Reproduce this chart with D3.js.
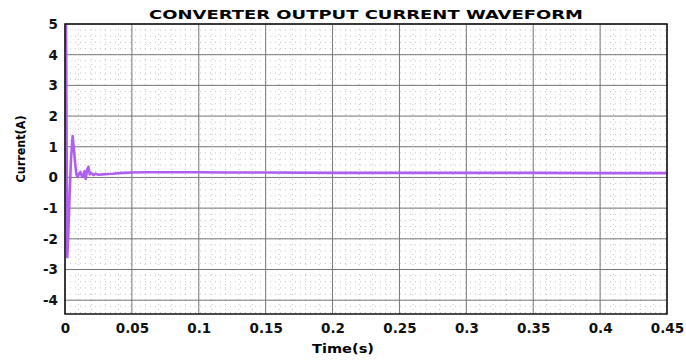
<!DOCTYPE html>
<html>
<head>
<meta charset="utf-8">
<script src="https://cdn.jsdelivr.net/npm/d3@7"></script>
<style>
  body { margin: 0; background: #fff; }
  text { font-family: "DejaVu Sans", Arial, sans-serif; font-weight: bold; }
</style>
</head>
<body>
<div id="chart"></div>
<script>
// time (s) and converter current (A)
var timeValues = [0, 0.0002, 0.0005, 0.0009, 0.0013, 0.0017, 0.0025, 0.0035, 0.0045, 0.0057,
                  0.0065, 0.0075, 0.0085, 0.0095, 0.0105, 0.0115, 0.0125, 0.0135, 0.0145, 0.0155,
                  0.0165, 0.0175, 0.0185, 0.0195, 0.021, 0.023, 0.025, 0.028, 0.032, 0.036,
                  0.04, 0.045, 0.05, 0.06, 0.08, 0.1, 0.12, 0.15, 0.2, 0.25,
                  0.3, 0.35, 0.4, 0.45];
var currentValues = [0, 3, 6.5, 4, 0.5, -2.6, -1.8, -0.5, 0.6, 1.35,
                     1.0, 0.5, 0.1, 0.02, 0.12, 0.18, 0.05, 0.02, 0.2, -0.05,
                     0.25, 0.35, 0.1, 0.15, 0.08, 0.12, 0.09, 0.1, 0.11, 0.12,
                     0.14, 0.15, 0.16, 0.17, 0.17, 0.17, 0.16, 0.16, 0.15, 0.15,
                     0.15, 0.15, 0.14, 0.14];
var xTicks = [0, 0.05, 0.1, 0.15, 0.2, 0.25, 0.3, 0.35, 0.4, 0.45];
var yTicks = [-4, -3, -2, -1, 0, 1, 2, 3, 4, 5];

function drawChart(target) {
    var width = 686, height = 360;
    var plotLeft = 65, plotRight = 667, plotTop = 24, plotBottom = 314;
    var fontFamily = '"DejaVu Sans", Arial, sans-serif';

    var x = d3.scaleLinear().domain([0, 0.45]).range([plotLeft, plotRight]);
    var y = d3.scaleLinear().domain([-4.45, 5]).range([plotBottom, plotTop]);

    var svg = d3.select(target).append('svg')
        .attr('width', width).attr('height', height);

    // minor grid (dotted)
    var xMinor = d3.range(0, 0.4501, 0.01);
    var yMinor = d3.range(-4.4, 5.001, 0.2);
    svg.append('g').selectAll('line').data(xMinor).enter().append('line')
        .attr('x1', function(d) { return x(d); }).attr('x2', function(d) { return x(d); })
        .attr('y1', plotTop).attr('y2', plotBottom)
        .attr('stroke', '#c4c4c4').attr('stroke-width', 1).attr('stroke-dasharray', '1,4');
    svg.append('g').selectAll('line').data(yMinor).enter().append('line')
        .attr('y1', function(d) { return y(d); }).attr('y2', function(d) { return y(d); })
        .attr('x1', plotLeft).attr('x2', plotRight)
        .attr('stroke', '#c4c4c4').attr('stroke-width', 1).attr('stroke-dasharray', '1,4');

    // major grid
    svg.append('g').selectAll('line').data(xTicks).enter().append('line')
        .attr('x1', function(d) { return x(d); }).attr('x2', function(d) { return x(d); })
        .attr('y1', plotTop).attr('y2', plotBottom)
        .attr('stroke', '#777').attr('stroke-width', 1);
    svg.append('g').selectAll('line').data(yTicks).enter().append('line')
        .attr('y1', function(d) { return y(d); }).attr('y2', function(d) { return y(d); })
        .attr('x1', plotLeft).attr('x2', plotRight)
        .attr('stroke', '#777').attr('stroke-width', 1);

    // waveform
    svg.append('clipPath').attr('id', 'plotclip').append('rect')
        .attr('x', plotLeft).attr('y', plotTop)
        .attr('width', plotRight - plotLeft).attr('height', plotBottom - plotTop);

    var line = d3.line()
        .x(function(d, i) { return x(timeValues[i]); })
        .y(function(d) { return y(d); });

    svg.append('path').datum(currentValues)
        .attr('clip-path', 'url(#plotclip)')
        .attr('d', line)
        .attr('fill', 'none')
        .attr('stroke', '#b060f0')
        .attr('stroke-width', 2.6)
        .attr('stroke-linejoin', 'round');

    // box
    svg.append('rect').attr('x', plotLeft).attr('y', plotTop)
        .attr('width', plotRight - plotLeft).attr('height', plotBottom - plotTop)
        .attr('fill', 'none').attr('stroke', '#111').attr('stroke-width', 1.5);

    // axes
    var xAxis = svg.append('g').attr('transform', 'translate(0,' + plotBottom + ')')
        .call(d3.axisBottom(x).tickValues(xTicks).tickSize(0).tickPadding(9)
            .tickFormat(function(d) { return d === 0 ? '0' : String(+d.toFixed(2)); }));
    xAxis.select('.domain').remove();
    xAxis.selectAll('text').attr('font-size', 13.5).attr('fill', '#111')
        .style('font-family', fontFamily).style('font-weight', 'bold');

    var yAxis = svg.append('g').attr('transform', 'translate(' + plotLeft + ',0)')
        .call(d3.axisLeft(y).tickValues(yTicks).tickSize(0).tickPadding(7)
            .tickFormat(function(d) { return String(d); }));
    yAxis.select('.domain').remove();
    yAxis.selectAll('text').attr('font-size', 13.5).attr('fill', '#111')
        .style('font-family', fontFamily).style('font-weight', 'bold');

    // title and labels
    svg.append('text').attr('x', 366).attr('y', 19)
        .attr('text-anchor', 'middle').attr('font-size', 12.5)
        .attr('textLength', 434).attr('lengthAdjust', 'spacingAndGlyphs')
        .text('CONVERTER OUTPUT CURRENT WAVEFORM');

    svg.append('text').attr('x', 343).attr('y', 353)
        .attr('text-anchor', 'middle').attr('font-size', 12.5)
        .attr('textLength', 62).attr('lengthAdjust', 'spacingAndGlyphs')
        .text('Time(s)');

    svg.append('text').attr('transform', 'translate(25,149) rotate(-90)')
        .attr('text-anchor', 'middle').attr('font-size', 11.5)
        .attr('textLength', 67).attr('lengthAdjust', 'spacingAndGlyphs')
        .text('Current(A)');
}

drawChart('#chart');
</script>
</body>
</html>
